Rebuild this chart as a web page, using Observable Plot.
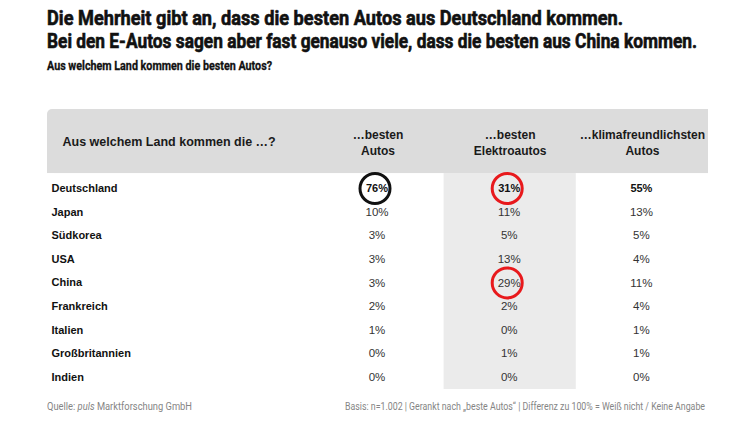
<!DOCTYPE html>
<html>
<head>
<meta charset="utf-8">
<script src="https://cdn.jsdelivr.net/npm/d3@7"></script>
<script src="https://cdn.jsdelivr.net/npm/@observablehq/plot@0.6"></script>
<style>
  html, body { margin: 0; padding: 0; background: #fff; }
  #wrap { position: relative; width: 730px; height: 422px; overflow: hidden; }
  .cond { position: absolute; left: 47px; white-space: nowrap; transform-origin: 0 0; font-family: Roboto, sans-serif; }
  .t { font-size: 19.5px; font-weight: 700; color: #111; line-height: 20px; -webkit-text-stroke: 0.6px #111; }
  .st { font-size: 12.5px; font-weight: 700; color: #111; line-height: 12px; -webkit-text-stroke: 0.3px #111; }
  .ft { font-size: 11px; font-weight: 400; color: #858585; line-height: 11px; }
  #chart { position: absolute; left: 0; top: 100px; }
</style>
</head>
<body>
<div id="wrap">
  <div class="cond t" id="t1" data-w="576"></div>
  <div class="cond t" id="t2" data-w="650"></div>
  <div class="cond st" id="st" data-w="225"></div>
  <div id="chart"></div>
  <div class="cond ft" id="f1" data-w="145"></div>
  <div class="cond ft" id="f2" data-w="360"></div>
</div>
<script>
const titleLines = [
  "Die Mehrheit gibt an, dass die besten Autos aus Deutschland kommen.",
  "Bei den E-Autos sagen aber fast genauso viele, dass die besten aus China kommen."
];
const subtitle = "Aus welchem Land kommen die besten Autos?";
const sourcePrefix = "Quelle: ";
const sourceName = "puls";
const sourceSuffix = " Marktforschung GmbH";
const note = "Basis: n=1.002 | Gerankt nach „beste Autos“ | Differenz zu 100% = Weiß nicht / Keine Angabe";

const rowHeader = "Aus welchem Land kommen die …?";
const columnHeaders = ["…besten\nAutos", "…besten\nElektroautos", "…klimafreundlichsten\nAutos"];
const countries = ["Deutschland", "Japan", "Südkorea", "USA", "China", "Frankreich", "Italien", "Großbritannien", "Indien"];
const besteAutos = [76, 10, 3, 3, 3, 2, 1, 0, 0];
const besteElektroautos = [31, 11, 5, 13, 29, 2, 0, 1, 0];
const klimafreundlichsteAutos = [55, 13, 5, 4, 11, 4, 1, 1, 0];
const highlights = [
  {column: 0, country: "Deutschland", color: "#111111"},
  {column: 1, country: "Deutschland", color: "#e8191c"},
  {column: 1, country: "China", color: "#e8191c"}
];

// text
document.getElementById("t1").textContent = titleLines[0];
document.getElementById("t2").textContent = titleLines[1];
document.getElementById("st").textContent = subtitle;
const f1 = document.getElementById("f1");
f1.append(sourcePrefix);
const em = document.createElement("i"); em.textContent = sourceName; f1.append(em);
f1.append(sourceSuffix);
document.getElementById("f2").textContent = note;

// vertical placement of the HTML texts
const pos = {t1: 9, t2: 31.5, st: 59.5, f1: 400.5, f2: 400.5};
for (const [id, top] of Object.entries(pos)) document.getElementById(id).style.top = top + "px";

// condense to match the narrow typeface
for (const el of document.querySelectorAll(".cond")) {
  const target = +el.dataset.w;
  const w = el.getBoundingClientRect().width;
  el.style.transform = `scaleX(${target / w})`;
}
document.getElementById("f2").style.left = (705 - 360) + "px";

const columns = [besteAutos, besteElektroautos, klimafreundlichsteAutos];
const cells = [];
countries.forEach((c, i) => columns.forEach((vals, j) => cells.push({country: c, row: i, column: j, value: vals[i]})));
const rowOf = new Map(countries.map((c, i) => [c, i]));
const rowCenter = 0.5;
const headerTop = -2.85, headerBottom = -0.135, bandBottom = countries.length + 0.02;

const fontFamily = "'Liberation Sans', Arial, sans-serif";
const chart = Plot.plot({
  width: 730,
  height: 295,
  margin: 0,
  style: {fontFamily, background: "transparent", overflow: "visible"},
  x: {domain: [-2, 3], range: [47, 708], axis: null},
  y: {domain: [headerTop, bandBottom], range: [9, 289], axis: null},
  marks: [
    // header background with rounded top-left corner
    Plot.rect([rowHeader], {x1: -2, x2: 3, y1: headerTop, y2: headerBottom, fill: "#dcdcdc", rx: 5}),
    Plot.rect([rowHeader], {x1: -1.95, x2: 3, y1: headerTop, y2: headerBottom, fill: "#dcdcdc"}),
    Plot.rect([rowHeader], {x1: -2, x2: 3, y1: headerTop + 0.2, y2: headerBottom, fill: "#dcdcdc"}),
    // shaded E-Auto column
    Plot.rect([columnHeaders[1]], {x1: 1, x2: 2, y1: headerBottom, y2: bandBottom, fill: "#ebebeb"}),
    // header texts
    Plot.text([rowHeader], {x: -2, y: (headerTop + headerBottom) / 2, text: d => d, textAnchor: "start", dx: 15, fontWeight: "bold", fontSize: 12.5, fill: "#1a1a1a"}),
    Plot.text(columnHeaders, {x: (d, i) => i + 0.5, y: (headerTop + headerBottom) / 2, text: d => d, fontWeight: "bold", fontSize: 12, lineHeight: 1.35, fill: "#1a1a1a"}),
    // row labels
    Plot.text(countries, {x: -2, y: (d, i) => i + rowCenter, text: d => d, textAnchor: "start", dx: 4, fontWeight: "bold", fontSize: 11, fill: "#111"}),
    // values
    Plot.text(cells.filter(d => d.row === 0), {x: d => d.column + 0.5, y: d => d.row + rowCenter, text: d => d.value + "%", fontWeight: "bold", fontSize: 11, fill: "#111", dx: -1}),
    Plot.text(cells.filter(d => d.row > 0), {x: d => d.column + 0.5, y: d => d.row + rowCenter, text: d => d.value + "%", fontSize: 11.5, fill: "#333", dx: -1}),
    // highlight circles
    Plot.dot(highlights, {x: d => d.column + 0.5, y: d => rowOf.get(d.country) + rowCenter, r: 15, stroke: d => d.color, strokeWidth: 3, fill: "none", dx: -3})
  ]
});
document.getElementById("chart").append(chart);
</script>
</body>
</html>
